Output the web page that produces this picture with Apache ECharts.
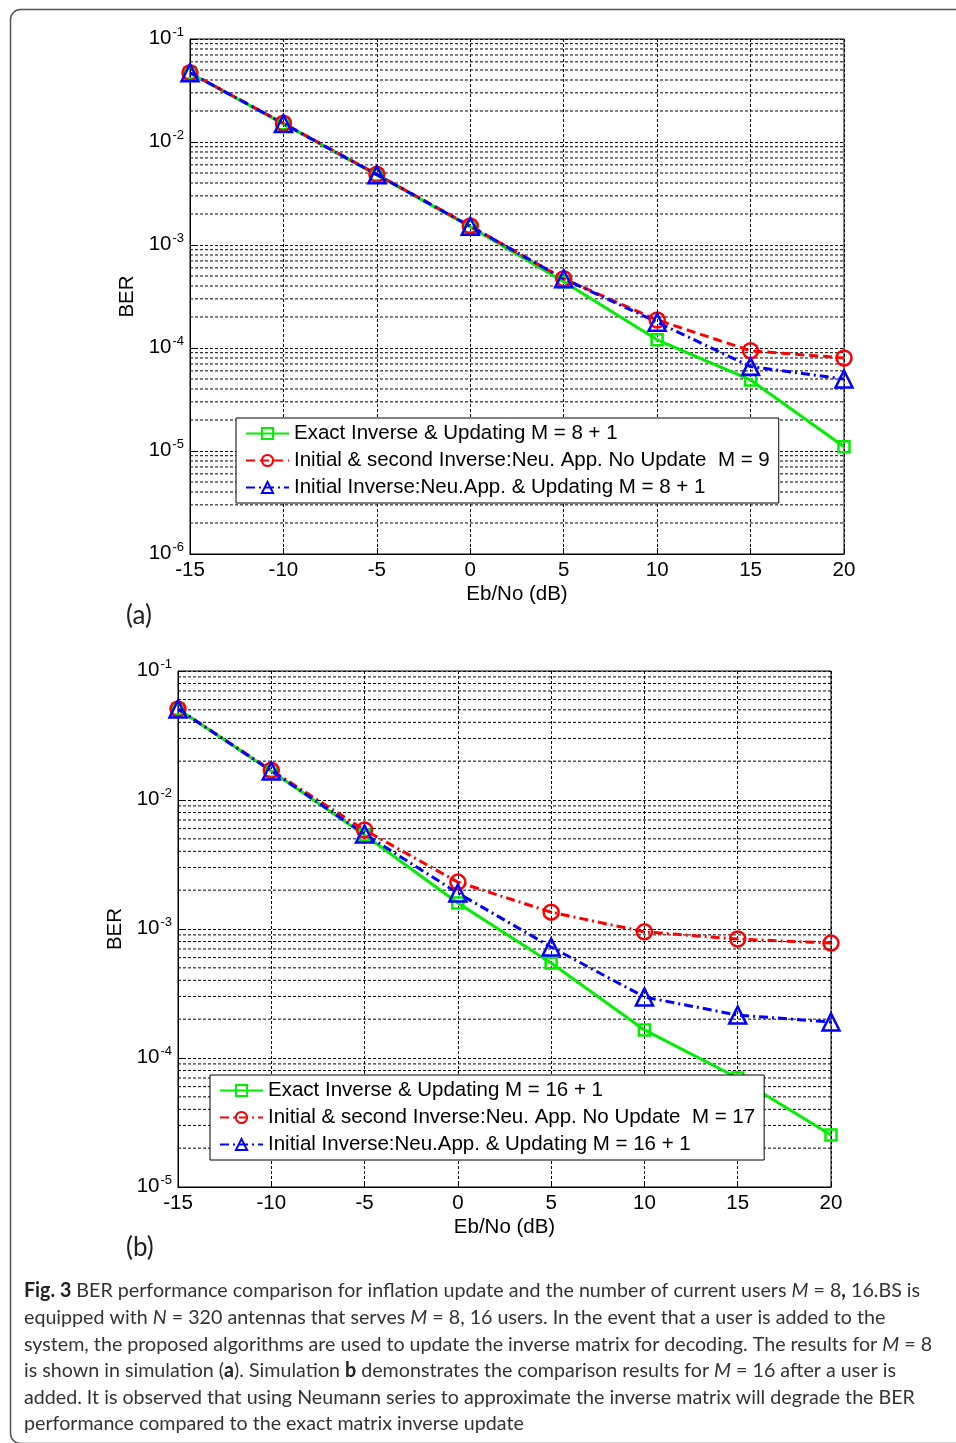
<!DOCTYPE html>
<html>
<head>
<meta charset="utf-8">
<script src="https://cdn.jsdelivr.net/npm/echarts@6/dist/echarts.min.js"></script>
<style>
  html, body { margin: 0; padding: 0; background: #fff; }
  #main { width: 956px; height: 1443px; }
</style>
</head>
<body>
<div id="main"></div>
<script>
// Eb/No points (dB)
const snr = [-15, -10, -5, 0, 5, 10, 15, 20];
const xTicks = [-15, -10, -5, 0, 5, 10, 15, 20];

// (a) M = 8
const berExactA  = [0.0468, 0.0150, 0.00479, 0.00150, 4.4e-4, 1.2e-4, 4.9e-5, 1.1e-5];
const berNoUpdA  = [0.0470, 0.0152, 0.00485, 0.00153, 4.7e-4, 1.87e-4, 9.4e-5, 8.0e-5];
const berNeuUpdA = [0.0470, 0.0151, 0.00482, 0.00152, 4.7e-4, 1.78e-4, 6.6e-5, 5.0e-5];

// (b) M = 16
const berExactB  = [0.0507, 0.0168, 0.00536, 0.00159, 5.45e-4, 1.65e-4, 7.0e-5, 2.53e-5];
const berNoUpdB  = [0.0507, 0.0170, 0.00585, 0.00231, 1.35e-3, 9.5e-4, 8.36e-4, 7.78e-4];
const berNeuUpdB = [0.0507, 0.0168, 0.00545, 0.00190, 7.25e-4, 2.97e-4, 2.15e-4, 1.90e-4];

// decades on the y axes (exponents)
const decadesA = [-6, -5, -4, -3, -2, -1];
const decadesB = [-5, -4, -3, -2, -1];

const namesA = [
  'Exact Inverse & Updating M = 8 + 1',
  'Initial & second Inverse:Neu. App. No Update  M = 9',
  'Initial Inverse:Neu.App. & Updating M = 8 + 1'
];
const namesB = [
  'Exact Inverse & Updating M = 16 + 1',
  'Initial & second Inverse:Neu. App. No Update  M = 17',
  'Initial Inverse:Neu.App. & Updating M = 16 + 1'
];

const FONT = 'Liberation Sans, Arial, sans-serif';
const FS = 20.5;
const gridDash = [3, 2];

// minor grid values 2..9 x 10^k inside each decade
function minorValues(decs) {
  const out = [];
  for (let i = 0; i < decs.length - 1; i++) {
    for (let m = 2; m <= 9; m++) out.push([xTicks[0], m * Math.pow(10, decs[i])]);
  }
  return out;
}

function pairs(ys) {
  return snr.map((x, i) => [x, ys[i]]);
}

function xAxisCfg(idx) {
  return {
    gridIndex: idx,
    type: 'value',
    min: -15, max: 20, interval: 5,
    name: 'Eb/No (dB)',
    nameLocation: 'middle',
    nameGap: 30,
    nameTextStyle: { fontSize: FS, color: '#000', fontFamily: FONT },
    axisLine: { show: true, onZero: false, lineStyle: { color: '#000', width: 1 } },
    axisTick: { show: true, inside: true, length: 6, lineStyle: { color: '#000' } },
    axisLabel: {
      margin: 6, fontSize: FS, color: '#000', fontFamily: FONT,
      formatter: v => xTicks.indexOf(v) >= 0 ? String(v) : ''
    },
    splitLine: { show: true, lineStyle: { color: '#000', type: gridDash, width: 1 } }
  };
}

function yAxisCfg(idx, decs, gap) {
  return {
    gridIndex: idx,
    type: 'log',
    logBase: 10,
    min: Math.pow(10, decs[0]),
    max: Math.pow(10, decs[decs.length - 1]),
    interval: 1,
    name: 'BER',
    nameLocation: 'middle',
    nameRotate: 90,
    nameGap: gap,
    nameTextStyle: { fontSize: FS, color: '#000', fontFamily: FONT },
    axisLine: { show: true, onZero: false, lineStyle: { color: '#000', width: 1 } },
    axisTick: { show: true, inside: true, length: 6, lineStyle: { color: '#000' } },
    axisLabel: {
      margin: 6, color: '#000', fontFamily: FONT,
      formatter: v => '{b|10}{s|' + Math.round(Math.log10(v)) + '}',
      rich: {
        b: { fontSize: FS, lineHeight: 20, verticalAlign: 'bottom', fontFamily: FONT, color: '#000' },
        s: { fontSize: 13, lineHeight: 13, verticalAlign: 'bottom', padding: [0, 0, 10, 1], fontFamily: FONT, color: '#000' }
      }
    },
    splitLine: { show: true, lineStyle: { color: '#000', type: gridDash, width: 1 } }
  };
}

function minorGrid(grid, decs) {
  return {
    type: 'custom',
    xAxisIndex: grid, yAxisIndex: grid,
    silent: true,
    z: 1,
    data: minorValues(decs),
    renderItem: function (params, api) {
      const v = api.value(1);
      const p1 = api.coord([xTicks[0], v]);
      const p2 = api.coord([xTicks[xTicks.length - 1], v]);
      return {
        type: 'line',
        shape: { x1: p1[0], y1: p1[1], x2: p2[0], y2: p2[1] },
        style: { stroke: '#000', lineWidth: 1, lineDash: gridDash }
      };
    }
  };
}

function lineSeries(name, grid, ys, color, dash, symbol, size) {
  return {
    name: name,
    type: 'line',
    xAxisIndex: grid, yAxisIndex: grid,
    data: pairs(ys),
    symbol: symbol,
    symbolSize: size,
    showAllSymbol: true,
    z: 3,
    lineStyle: { color: color, width: 3, type: dash },
    itemStyle: { color: 'rgba(255,255,255,0)', borderColor: color, borderWidth: 2.5 },
    emphasis: { disabled: true }
  };
}

function legendCfg(names, left, top) {
  return {
    data: names,
    orient: 'vertical',
    left: left, top: top,
    itemWidth: 43, itemHeight: 14, itemGap: 6,
    padding: [5, 9, 5, 9],
    backgroundColor: '#fff',
    borderColor: '#000', borderWidth: 1, borderRadius: 0,
    selectedMode: false,
    textStyle: { fontSize: FS, lineHeight: 21, color: '#000', fontFamily: FONT },
    z: 10
  };
}

// caption, one line per entry
const captionLines = [
  '{b|Fig. 3} BER performance comparison for inflation update and the number of current users {i|M} = 8{b|,} 16.BS is',
  'equipped with {i|N} = 320 antennas that serves {i|M} = 8, 16 users. In the event that a user is added to the',
  'system, the proposed algorithms are used to update the inverse matrix for decoding. The results for {i|M} = 8',
  'is shown in simulation ({b|a}). Simulation {b|b} demonstrates the comparison results for {i|M} = 16 after a user is',
  'added. It is observed that using Neumann series to approximate the inverse matrix will degrade the BER',
  'performance compared to the exact matrix inverse update'
];
const CAP_FONT = 'Lato, Open Sans, sans-serif';
const capSize = 20;
const cv = document.createElement('canvas').getContext('2d');
cv.font = capSize + 'px ' + CAP_FONT;
const plain0 = captionLines[0].replace(/\{[a-z]\|([^}]*)\}/g, '$1');
const capScale = 897 / cv.measureText(plain0).width;

const captionGraphics = captionLines.map((t, i) => ({
  type: 'text',
  x: 24,
  y: 1291 + i * 26.6,
  scaleX: capScale,
  style: {
    text: t,
    fill: '#333',
    fontSize: capSize,
    fontFamily: CAP_FONT,
    verticalAlign: 'middle',
    rich: {
      b: { fontWeight: 'bold', fontSize: capSize, fontFamily: CAP_FONT, fill: '#222' },
      i: { fontStyle: 'italic', fontSize: capSize, fontFamily: CAP_FONT, fill: '#333' }
    }
  }
}));

const chart = echarts.init(document.getElementById('main'), null, { renderer: 'canvas' });

const option = {
  animation: false,
  backgroundColor: '#fff',
  grid: [
    { left: 190, top: 39, width: 654, height: 515, show: true, borderColor: '#000', borderWidth: 1, backgroundColor: '#fff' },
    { left: 178, top: 671, width: 653, height: 516, show: true, borderColor: '#000', borderWidth: 1, backgroundColor: '#fff' }
  ],
  xAxis: [xAxisCfg(0), xAxisCfg(1)],
  yAxis: [yAxisCfg(0, decadesA, 49), yAxisCfg(1, decadesB, 50)],
  legend: [legendCfg(namesA, 236, 418), legendCfg(namesB, 210, 1075)],
  series: [
    minorGrid(0, decadesA),
    minorGrid(1, decadesB),
    lineSeries(namesA[0], 0, berExactA, '#00ee00', 'solid', 'rect', 11),
    lineSeries(namesA[1], 0, berNoUpdA, '#ff0000', [9, 5], 'circle', 15),
    lineSeries(namesA[2], 0, berNeuUpdA, '#0000ff', [9, 4, 2, 4], 'triangle', 17),
    lineSeries(namesB[0], 1, berExactB, '#00ee00', 'solid', 'rect', 11),
    lineSeries(namesB[1], 1, berNoUpdB, '#ff0000', [9, 4, 2, 4], 'circle', 15),
    lineSeries(namesB[2], 1, berNeuUpdB, '#0000ff', [9, 4, 2, 4], 'triangle', 17)
  ],
  graphic: [
    {
      type: 'rect', left: 8, top: 7, z: -1,
      shape: { width: 1000, height: 1434, r: 10 },
      style: { fill: 'none', stroke: '#555', lineWidth: 1.5 }
    },
    { type: 'text', left: 126, top: 603, style: { text: '(a)', fontSize: 26, fontFamily: CAP_FONT, fill: '#222' } },
    { type: 'text', left: 126, top: 1235, style: { text: '(b)', fontSize: 26, fontFamily: CAP_FONT, fill: '#222' } }
  ].concat(captionGraphics)
};

chart.setOption(option);
</script>
</body>
</html>
